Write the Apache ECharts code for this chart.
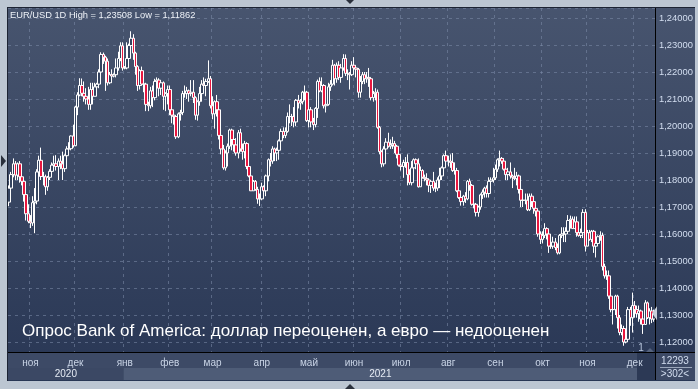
<!DOCTYPE html>
<html><head><meta charset="utf-8">
<script src="https://cdn.jsdelivr.net/npm/echarts@6/dist/echarts.min.js"></script>
<style>html,body{margin:0;padding:0;background:#bcc6d2;overflow:hidden}#c{width:698px;height:389px}</style>
</head><body><div id="c"></div>
<script>
// rows: [open, close, low, high]
const oct2020 = [
[1.1718,1.1770,1.1703,1.1780],[1.1770,1.1820,1.1760,1.1830],[1.1820,1.1860,1.1810,1.1880],[1.1860,1.1818,1.1800,1.1870],[1.1818,1.1860,1.1800,1.1865],
[1.1860,1.1812,1.1790,1.1870],[1.1812,1.1795,1.1780,1.1835],[1.1795,1.1746,1.1720,1.1810],[1.1746,1.1675,1.1650,1.1760],[1.1675,1.1647,1.1640,1.1710]];
const nov2020 = [
[1.1647,1.1641,1.1622,1.1670],[1.1641,1.1716,1.1630,1.1740],[1.1716,1.1722,1.1603,1.1770],[1.1722,1.1830,1.1710,1.1840],[1.1830,1.1873,1.1810,1.1890],
[1.1873,1.1813,1.1800,1.1920],[1.1813,1.1812,1.1780,1.1830],[1.1812,1.1775,1.1745,1.1820],[1.1775,1.1810,1.1760,1.1815],[1.1810,1.1832,1.1800,1.1840],
[1.1832,1.1855,1.1820,1.1865],[1.1855,1.1860,1.1835,1.1890],[1.1860,1.1850,1.1835,1.1892],[1.1850,1.1870,1.1800,1.1880],[1.1870,1.1860,1.1840,1.1890],
[1.1860,1.1842,1.1800,1.1905],[1.1842,1.1890,1.1830,1.1895],[1.1890,1.1915,1.1870,1.1925],[1.1915,1.1916,1.1900,1.1940],[1.1916,1.1963,1.1910,1.1965],
[1.1963,1.1927,1.1920,1.2005]];
const dec2020 = [
[1.1927,1.2070,1.1925,1.2075],[1.2070,1.2115,1.2040,1.2125],[1.2115,1.2150,1.2110,1.2177],[1.2150,1.2121,1.2110,1.2176],
[1.2121,1.2110,1.2090,1.2165],[1.2110,1.2100,1.2080,1.2140],[1.2100,1.2080,1.2060,1.2145],[1.2080,1.2135,1.2060,1.2160],[1.2135,1.2110,1.2080,1.2160],
[1.2110,1.2145,1.2110,1.2160],[1.2145,1.2155,1.2120,1.2160],[1.2155,1.2200,1.2140,1.2210],[1.2200,1.2265,1.2195,1.2273],[1.2265,1.2255,1.2230,1.2272],
[1.2255,1.2240,1.2130,1.2260],[1.2240,1.2160,1.2150,1.2250],[1.2160,1.2190,1.2155,1.2200],[1.2190,1.2185,1.2160,1.2210],[1.2185,1.2190,1.2180,1.2195],
[1.2190,1.2215,1.2180,1.2250],[1.2215,1.2250,1.2205,1.2275],[1.2250,1.2297,1.2240,1.2310],[1.2297,1.2215,1.2205,1.2310]];
const jan2021 = [
[1.2215,1.2215,1.2210,1.2222],
[1.2215,1.2250,1.2210,1.2310],[1.2250,1.2298,1.2230,1.2305],[1.2298,1.2325,1.2265,1.23508],[1.2325,1.2270,1.2245,1.2340],[1.2270,1.2220,1.2190,1.2275],
[1.2220,1.2150,1.2130,1.2225],[1.2150,1.2205,1.2135,1.2210],[1.2205,1.2155,1.2150,1.2220],[1.2155,1.2155,1.2125,1.2175],[1.2155,1.2080,1.2055,1.2160],
[1.2080,1.2075,1.2055,1.2090],[1.2075,1.2130,1.2065,1.2145],[1.2130,1.2105,1.2070,1.2150],[1.2105,1.2165,1.2095,1.2175],[1.2165,1.2170,1.2130,1.2180],
[1.2170,1.2140,1.2110,1.2177],[1.2140,1.2160,1.2115,1.2170],[1.2160,1.2110,1.2060,1.2165],[1.2110,1.2120,1.2055,1.2125],[1.2120,1.2135,1.2080,1.2150]];
const feb2021 = [
[1.2135,1.2060,1.2040,1.2150],[1.2060,1.2040,1.2010,1.2080],[1.2040,1.2035,1.2005,1.2060],[1.2035,1.1960,1.1952,1.2040],[1.1960,1.2045,1.1955,1.2050],
[1.2045,1.2050,1.2020,1.2060],[1.2050,1.2120,1.2040,1.2130],[1.2120,1.2120,1.2105,1.2150],[1.2120,1.2130,1.2100,1.2145],[1.2130,1.2120,1.2090,1.2135],
[1.2120,1.2125,1.2110,1.2170],[1.2125,1.2105,1.2085,1.2170],[1.2105,1.2040,1.2023,1.2110],[1.2040,1.2090,1.2020,1.2095],[1.2090,1.2120,1.2075,1.2145],
[1.2120,1.2155,1.2090,1.2170],[1.2155,1.2150,1.2130,1.2180],[1.2150,1.2165,1.2110,1.2175],[1.2165,1.2175,1.2160,1.2243],[1.2175,1.2075,1.2065,1.2185]];
const mar2021 = [
[1.2075,1.2045,1.2025,1.2110],[1.2045,1.2090,1.1990,1.2095],[1.2090,1.2060,1.2035,1.2115],[1.2060,1.1965,1.1950,1.2070],[1.1965,1.1915,1.1895,1.1975],
[1.1915,1.1845,1.1838,1.1930],[1.1845,1.1900,1.1835,1.1910],[1.1900,1.1925,1.1850,1.1935],[1.1925,1.1985,1.1915,1.1990],[1.1985,1.1950,1.1910,1.1990],
[1.1950,1.1930,1.1905,1.1965],[1.1930,1.1900,1.1890,1.1955],[1.1900,1.1975,1.1880,1.1985],[1.1975,1.1915,1.1905,1.1990],[1.1915,1.1905,1.1875,1.1935],
[1.1905,1.1935,1.1880,1.1945],[1.1935,1.1850,1.1840,1.1940],[1.1850,1.1815,1.1810,1.1855],[1.1815,1.1760,1.1760,1.1830],[1.1760,1.1795,1.1760,1.1800],
[1.1795,1.1765,1.1760,1.1800],[1.1765,1.1730,1.1712,1.1775],[1.1730,1.1730,1.1704,1.1750]];
const apr2021 = [
[1.1730,1.1775,1.1725,1.1790],[1.1775,1.1760,1.1740,1.1780],
[1.1760,1.1815,1.1740,1.1820],[1.1815,1.1875,1.1795,1.1880],[1.1875,1.1870,1.1850,1.1900],[1.1870,1.1915,1.1860,1.1925],[1.1915,1.1900,1.1870,1.1920],
[1.1900,1.1910,1.1870,1.1920],[1.1910,1.1945,1.1875,1.1950],[1.1945,1.1980,1.1940,1.1990],[1.1980,1.1965,1.1955,1.1995],[1.1965,1.1980,1.1955,1.1995],
[1.1980,1.2035,1.1975,1.2050],[1.2035,1.2035,1.2010,1.2080],[1.2035,1.2035,1.2000,1.2045],[1.2035,1.2015,1.1995,1.2070],[1.2015,1.2095,1.2000,1.2100],
[1.2095,1.2085,1.2065,1.2115],[1.2085,1.2090,1.2060,1.2100],[1.2090,1.2125,1.2080,1.2130],[1.2125,1.2125,1.2095,1.2150],[1.2125,1.2020,1.2015,1.2130]];
const may2021 = [
[1.2020,1.2060,1.1995,1.2075],[1.2060,1.2015,1.1995,1.2070],[1.2015,1.2005,1.1985,1.2030],[1.2005,1.2065,1.1995,1.2070],[1.2065,1.2165,1.2030,1.2172],
[1.2165,1.2130,1.2125,1.2180],[1.2130,1.2150,1.2125,1.2180],[1.2150,1.2075,1.2065,1.2155],[1.2075,1.2080,1.2050,1.2095],[1.2080,1.2145,1.2075,1.2160],
[1.2145,1.2155,1.2130,1.2170],[1.2155,1.2225,1.2150,1.2245],[1.2225,1.2175,1.2150,1.2230],[1.2175,1.2225,1.2160,1.2235],[1.2225,1.2180,1.2170,1.2240],
[1.2180,1.2215,1.2160,1.2230],[1.2215,1.2250,1.2205,1.2266],[1.2250,1.2195,1.2185,1.2265],[1.2195,1.2195,1.2170,1.2210],[1.2195,1.2190,1.2135,1.2200],
[1.2190,1.2225,1.2185,1.2240]];
const jun2021 = [
[1.2225,1.2215,1.2195,1.2255],[1.2215,1.2210,1.2180,1.2225],[1.2210,1.2125,1.2105,1.2215],[1.2125,1.2165,1.2105,1.2185],
[1.2165,1.2190,1.2155,1.2200],[1.2190,1.2175,1.2155,1.2200],[1.2175,1.2180,1.2160,1.2200],[1.2180,1.2175,1.2145,1.2215],[1.2175,1.2105,1.2095,1.2180],
[1.2105,1.2120,1.2090,1.2130],[1.2120,1.2125,1.2095,1.2140],[1.2125,1.1995,1.1990,1.2135],[1.1995,1.1905,1.1895,1.2000],[1.1905,1.1860,1.1847,1.1910],
[1.1860,1.1915,1.1850,1.1925],[1.1915,1.1940,1.1880,1.1955],[1.1940,1.1925,1.1920,1.1975],[1.1925,1.1930,1.1915,1.1950],[1.1930,1.1935,1.1915,1.1960],
[1.1935,1.1925,1.1900,1.1945],[1.1925,1.1895,1.1880,1.1930],[1.1895,1.1855,1.1850,1.1905]];
const jul2021 = [
[1.1855,1.1850,1.1835,1.1890],[1.1850,1.1865,1.1808,1.1875],
[1.1865,1.1865,1.1845,1.1885],[1.1865,1.1820,1.1780,1.1895],[1.1820,1.1790,1.1782,1.1840],[1.1790,1.1845,1.1780,1.1870],[1.1845,1.1875,1.1835,1.1880],
[1.1875,1.1860,1.1840,1.1880],[1.1860,1.1775,1.1772,1.1880],[1.1775,1.1835,1.1775,1.1850],[1.1835,1.1810,1.1805,1.1840],[1.1810,1.1805,1.1795,1.1820],
[1.1805,1.1800,1.1780,1.1825],[1.1800,1.1780,1.1755,1.1805],[1.1780,1.1795,1.1752,1.1800],[1.1795,1.1770,1.1760,1.1830],[1.1770,1.1770,1.1755,1.1790],
[1.1770,1.1800,1.1760,1.1810],[1.1800,1.1815,1.1770,1.1845],[1.1815,1.1845,1.1800,1.1850],[1.1845,1.1890,1.1840,1.1895],[1.1890,1.1870,1.1855,1.1909]];
const aug2021 = [
[1.1870,1.1870,1.1850,1.1890],[1.1870,1.1865,1.1845,1.1895],[1.1865,1.1835,1.1830,1.1900],[1.1835,1.1835,1.1820,1.1865],[1.1835,1.1760,1.1755,1.1845],
[1.1760,1.1735,1.1730,1.1765],[1.1735,1.1720,1.1705,1.1745],[1.1720,1.1740,1.1705,1.1745],[1.1740,1.1730,1.1715,1.1755],[1.1730,1.1795,1.1725,1.1800],
[1.1795,1.1780,1.1760,1.1805],[1.1780,1.1710,1.1705,1.1785],[1.1710,1.1710,1.1695,1.1740],[1.1710,1.1680,1.1665,1.1715],[1.1680,1.1700,1.1664,1.1705],
[1.1700,1.1745,1.1690,1.1750],[1.1745,1.1755,1.1730,1.1765],[1.1755,1.1770,1.1735,1.1775],[1.1770,1.1750,1.1735,1.1780],[1.1750,1.1795,1.1735,1.1810],
[1.1795,1.1800,1.1780,1.1810],[1.1800,1.1808,1.1790,1.1845]];
const sep2021 = [
[1.1808,1.1840,1.1800,1.1857],[1.1840,1.1875,1.1830,1.1880],[1.1875,1.1880,1.1850,1.1909],
[1.1880,1.1870,1.1860,1.1885],[1.1870,1.1840,1.1835,1.1880],[1.1840,1.1820,1.1800,1.1850],[1.1820,1.1830,1.1800,1.1845],[1.1830,1.1815,1.1805,1.1865],
[1.1815,1.1810,1.1770,1.1820],[1.1810,1.1805,1.1800,1.1845],[1.1805,1.1815,1.1780,1.1830],[1.1815,1.1765,1.1750,1.1820],[1.1765,1.1725,1.1700,1.1780],
[1.1725,1.1725,1.1700,1.1750],[1.1725,1.1725,1.1710,1.1750],[1.1725,1.1690,1.1685,1.1750],[1.1690,1.1740,1.1685,1.1750],[1.1740,1.1720,1.1700,1.1750],
[1.1720,1.1695,1.1675,1.1730],[1.1695,1.1685,1.1665,1.1700],[1.1685,1.1600,1.1590,1.1690],[1.1600,1.1580,1.1563,1.1610]];
const oct2021 = [
[1.1580,1.1595,1.1565,1.1610],
[1.1595,1.1620,1.1585,1.1640],[1.1620,1.1600,1.1580,1.1625],[1.1600,1.1555,1.1530,1.1605],[1.1555,1.1555,1.1545,1.1585],[1.1555,1.1570,1.1545,1.1590],
[1.1570,1.1550,1.1540,1.1585],[1.1550,1.1530,1.1524,1.1565],[1.1530,1.1595,1.1525,1.1600],[1.1595,1.1600,1.1585,1.1625],[1.1600,1.1600,1.1570,1.1625],
[1.1600,1.1610,1.1570,1.1625],[1.1610,1.1650,1.1600,1.1670],[1.1650,1.1655,1.1620,1.1668],[1.1655,1.1620,1.1620,1.1665],[1.1620,1.1645,1.1620,1.1665],
[1.1645,1.1605,1.1590,1.1665],[1.1605,1.1595,1.1590,1.1625],[1.1595,1.1605,1.1585,1.1620],[1.1605,1.1680,1.1585,1.1692],[1.1680,1.1555,1.1535,1.1692]];
const nov2021 = [
[1.1555,1.1605,1.1555,1.1615],[1.1605,1.1580,1.1575,1.1615],[1.1580,1.1610,1.1570,1.1615],[1.1610,1.1555,1.1530,1.1615],[1.1555,1.1565,1.1513,1.1570],
[1.1565,1.1590,1.1555,1.1595],[1.1590,1.1595,1.1575,1.1610],[1.1595,1.1480,1.1465,1.1605],[1.1480,1.1445,1.1435,1.1490],[1.1445,1.1445,1.1430,1.1465],
[1.1445,1.1370,1.1360,1.1465],[1.1370,1.1320,1.1310,1.1390],[1.1320,1.1320,1.1265,1.1330],[1.1320,1.1370,1.1300,1.1375],[1.1370,1.1290,1.1250,1.1375],
[1.1290,1.1235,1.1225,1.1300],[1.1235,1.1250,1.1225,1.1265],[1.1250,1.1200,1.11862,1.1260],[1.1200,1.1210,1.1195,1.1230],[1.1210,1.1320,1.1205,1.1330],
[1.1320,1.1290,1.1260,1.1330],[1.1290,1.1335,1.1235,1.1383]];
const dec2021 = [
[1.1335,1.1320,1.1290,1.1352],[1.1320,1.1305,1.1290,1.1335],[1.1305,1.1315,1.1275,1.1335],
[1.1315,1.1285,1.1265,1.1320],[1.1285,1.1265,1.1230,1.1290],[1.1265,1.1345,1.1265,1.1355],[1.1345,1.1290,1.1285,1.1350],[1.1290,1.1315,1.1265,1.1325],
[1.1315,1.1285,1.1270,1.1330],[1.1285,1.13068,1.1275,1.1320]];

const monthNames = ['янв','фев','мар','апр','май','июн','июл','авг','сен','окт','ноя','дек'];
const yearLabels = ['2020','2021'];
const firstDay = '2020-10-19';
const lastPrice = 1.13068;
const yMin = 1.1163, yMax = 1.2437;
const titleText = 'EUR/USD 1D High = 1,23508 Low = 1,11862';
const captionText = 'Опрос Bank of America: доллар переоценен, а евро — недооценен';
const barCountText = '12293';
const visibleText = '>302<';

const ohlc = [].concat(oct2020, nov2020, dec2020, jan2021, feb2021, mar2021, apr2021,
  may2021, jun2021, jul2021, aug2021, sep2021, oct2021, nov2021, dec2021);

// trading-day categories (weekdays) starting at firstDay
const dates = [];
{
  const d = new Date(firstDay + 'T00:00:00Z');
  while (dates.length < ohlc.length) {
    const wd = d.getUTCDay();
    if (wd !== 0 && wd !== 6) dates.push(d.toISOString().slice(0, 10));
    d.setUTCDate(d.getUTCDate() + 1);
  }
}
const isMonthStart = (i) => i > 0 && dates[i].slice(5, 7) !== dates[i - 1].slice(5, 7);

const FONT = 'Liberation Sans';
const L = 8, T = 8, R = 655, B = 352, W = 698, H = 389;

const chart = echarts.init(document.getElementById('c'), null, { renderer: 'canvas' });
chart.setOption({
  animation: false,
  backgroundColor: {
    type: 'linear', x: 0, y: 0, x2: 0, y2: 1,
    colorStops: [{ offset: 0, color: '#48556f' }, { offset: 1, color: '#283654' }]
  },
  grid: { left: L, top: T, right: W - R, bottom: H - B, outerBoundsMode: 'none', containLabel: false },
  xAxis: {
    type: 'category', data: dates, boundaryGap: true,
    axisLine: { show: true, lineStyle: { color: '#000', width: 1 } },
    axisTick: { show: false, interval: (i) => isMonthStart(i) },
    axisLabel: {
      show: true, interval: (i) => isMonthStart(i), color: '#c9d4e6', fontFamily: FONT, fontSize: 10, margin: 6,
      formatter: (v) => monthNames[+v.slice(5, 7) - 1]
    },
    splitLine: { show: true, interval: (i) => isMonthStart(i), lineStyle: { color: 'rgba(125,140,170,0.55)', type: [3, 4], width: 1 } }
  },
  yAxis: {
    type: 'value', position: 'right', scale: true, min: yMin, max: yMax, splitNumber: 13,
    axisLine: { show: true, lineStyle: { color: '#000', width: 1 } },
    axisTick: { show: false },
    axisLabel: {
      color: '#d3def0', fontFamily: FONT, fontSize: 9.4, margin: 4, showMinLabel: false, showMaxLabel: false,
      formatter: (v) => v.toFixed(5).replace('.', ',')
    },
    splitLine: { show: true, lineStyle: { color: 'rgba(125,140,170,0.55)', type: [3, 4], width: 1 } }
  },
  series: [{
    type: 'candlestick', data: ohlc, barWidth: 3,
    itemStyle: { color: '#34435f', color0: '#e8173f', borderColor: '#ffffff', borderColor0: '#ffffff', borderWidth: 1 },
    markLine: {
      silent: true, symbol: ['none', 'none'],
      lineStyle: { opacity: 0 },
      data: [{ yAxis: lastPrice }],
      label: {
        show: true, position: 'end', distance: 3, formatter: lastPrice.toFixed(5).replace('.', ','),
        color: '#2a3550', backgroundColor: '#c8cfd9', padding: [3, 2, 2, 2], fontFamily: FONT, fontSize: 10
      }
    }
  }]
});

// decorations placed from the axis scale
const band = (R - L) / dates.length;
const yearStartIdx = dates.findIndex((d) => d.startsWith('2021'));
const xYear = chart.convertToPixel({ xAxisIndex: 0 }, dates[yearStartIdx]) - band / 2;
const yLast = chart.convertToPixel({ yAxisIndex: 0 }, lastPrice);
const frame = '#bcc6d2';
const f = (s) => s + 'px "' + FONT + '"';
chart.setOption({
  graphic: [
    { type: 'rect', shape: { x: L, y: B, width: W - 3 - L, height: 28 }, style: { fill: '#3d4a66' }, z: -10 },
    { type: 'rect', shape: { x: L, y: B + 16, width: xYear - L, height: 12 }, style: { fill: '#3b4864' }, z: -9 },
    { type: 'rect', shape: { x: xYear, y: B + 16, width: 637 - xYear, height: 12 }, style: { fill: '#4e5c77' }, z: -9 },
    { type: 'rect', shape: { x: 637, y: B, width: R - 637, height: 28 }, style: { fill: '#2c3955' }, z: -9 },
    { type: 'text', x: (L + xYear) / 2, y: B + 22, style: { text: yearLabels[0], fill: '#e6ecf5', font: f(10), textAlign: 'center', textVerticalAlign: 'middle' }, z: 5 },
    { type: 'text', x: (xYear + 637) / 2, y: B + 22, style: { text: yearLabels[1], fill: '#e6ecf5', font: f(10), textAlign: 'center', textVerticalAlign: 'middle' }, z: 5 },
    { type: 'text', x: 675, y: B + 9, style: { text: barCountText, fill: '#d3def0', font: f(10), textAlign: 'center', textVerticalAlign: 'middle' }, z: 5 },
    { type: 'line', shape: { x1: 660, y1: B + 15.5, x2: 692, y2: B + 15.5 }, style: { stroke: '#9aa6ba', lineWidth: 1 }, z: 5 },
    { type: 'text', x: 675, y: B + 22, style: { text: visibleText, fill: '#d3def0', font: f(10), textAlign: 'center', textVerticalAlign: 'middle' }, z: 5 },
    { type: 'text', x: 641, y: B - 4, style: { text: '1', fill: '#b8c6dc', font: f(10), textAlign: 'center', textVerticalAlign: 'middle' }, z: 5 },
    { type: 'polygon', shape: { points: [[646, B], [654, B], [650, B - 4]] }, style: { fill: '#55637e' }, z: 5 },
    { type: 'line', shape: { x1: L, y1: B + 0.5, x2: W - 3, y2: B + 0.5 }, style: { stroke: '#000', lineWidth: 1 }, z: 6 },
    { type: 'line', shape: { x1: R + 0.5, y1: T, x2: R + 0.5, y2: B + 28 }, style: { stroke: '#000', lineWidth: 1 }, z: 6 },
    { type: 'polygon', shape: { points: [[R - 3, yLast], [R + 2, yLast - 7], [R + 2, yLast + 7]] }, style: { fill: '#c8cfd9' }, z: 6 },
    { type: 'text', x: 10, y: 15, style: { text: titleText, fill: '#eef2f8', font: f(9.3), textVerticalAlign: 'middle' }, z: 6 },
    { type: 'text', x: 22, y: 331, style: { text: captionText, fill: '#ffffff', font: f(17), textVerticalAlign: 'middle' }, z: 6 },
    { type: 'rect', shape: { x: 0, y: 0, width: W, height: 7 }, style: { fill: frame }, z: 7 },
    { type: 'rect', shape: { x: 0, y: 0, width: 7, height: H }, style: { fill: frame }, z: 7 },
    { type: 'rect', shape: { x: 0, y: B + 29, width: W, height: H - B - 29 }, style: { fill: frame }, z: 7 },
    { type: 'rect', shape: { x: W - 3, y: 0, width: 3, height: H }, style: { fill: frame }, z: 7 },
    { type: 'line', shape: { x1: 7, y1: 7.5, x2: W - 3, y2: 7.5 }, style: { stroke: '#1c2333', lineWidth: 1 }, z: 7 },
    { type: 'line', shape: { x1: 7.5, y1: 7, x2: 7.5, y2: B + 29 }, style: { stroke: '#1c2333', lineWidth: 1 }, z: 7 },
    { type: 'polygon', shape: { points: [[346, 0], [354, 0], [350, 4]] }, style: { fill: '#2a303c' }, z: 8 },
    { type: 'polygon', shape: { points: [[345, H], [355, H], [350, H - 5]] }, style: { fill: '#2a303c' }, z: 8 },
    { type: 'polygon', shape: { points: [[1, 155], [1, 167], [6, 161]] }, style: { fill: '#2a303c' }, z: 8 }
  ]
});
</script></body></html>
